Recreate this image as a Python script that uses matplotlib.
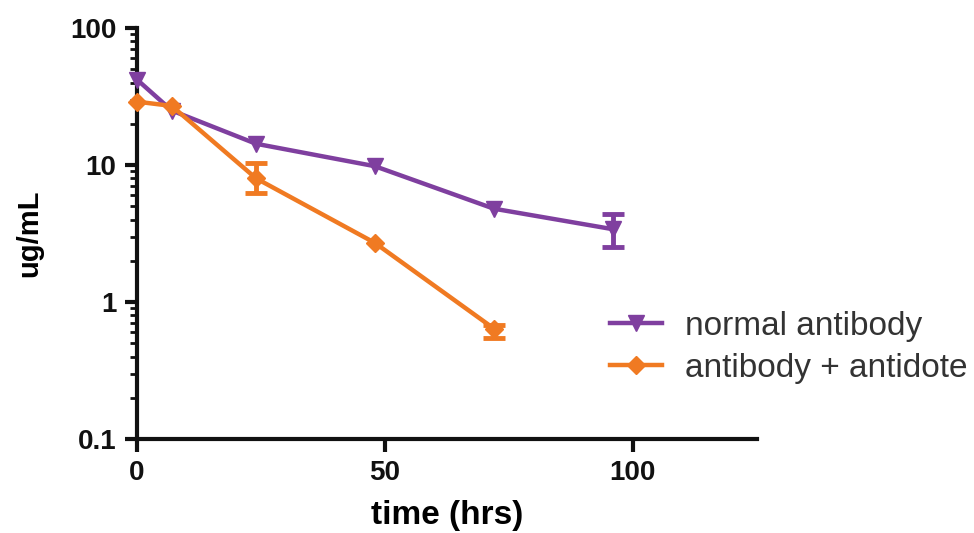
import matplotlib.pyplot as plt
from matplotlib.lines import Line2D
from matplotlib.ticker import LogLocator, NullFormatter

# ---------------- data ----------------
time_normal = [0, 7, 24, 48, 72, 96]
conc_normal = [42, 25, 14.3, 9.8, 4.8, 3.4]

# error bars only where they are visible
err_normal_t = [96]
err_normal_y = [3.4]
err_normal_lo = [0.9]
err_normal_hi = [1.0]

time_antidote = [0, 7, 24, 48, 72]
conc_antidote = [29, 27, 8.0, 2.7, 0.64]

err_antidote_t = [24, 72]
err_antidote_y = [8.0, 0.64]
err_antidote_lo = [1.8, 0.09]
err_antidote_hi = [2.3, 0.04]

purple = "#7f3f9f"
orange = "#f07a22"

fig = plt.figure(figsize=(9.74, 5.33), dpi=100)
ax = fig.add_axes([0.1407, 0.1764, 0.636, 0.771])

ax.plot(time_normal, conc_normal, color=purple, marker="v", markersize=12,
        linewidth=3.2, clip_on=False, zorder=3)
ax.errorbar(err_normal_t, err_normal_y, yerr=[err_normal_lo, err_normal_hi],
            fmt="none", ecolor=purple, capsize=8, capthick=3.5, elinewidth=3.5,
            zorder=3)
ax.plot(time_antidote, conc_antidote, color=orange, marker="D", markersize=9,
        linewidth=3.2, clip_on=False, zorder=3)
ax.errorbar(err_antidote_t, err_antidote_y, yerr=[err_antidote_lo, err_antidote_hi],
            fmt="none", ecolor=orange, capsize=8, capthick=3.5, elinewidth=3.5,
            zorder=3)

ax.set_yscale("log")
ax.set_ylim(0.1, 100)
ax.set_xlim(0, 125)
ax.set_xticks([0, 50, 100])
ax.set_yticks([0.1, 1, 10, 100])
ax.set_yticklabels(["0.1", "1", "10", "100"])
ax.yaxis.set_minor_locator(LogLocator(base=10, subs=range(2, 10)))
ax.yaxis.set_minor_formatter(NullFormatter())

for s in ["top", "right"]:
    ax.spines[s].set_visible(False)
for s in ["left", "bottom"]:
    ax.spines[s].set_linewidth(3)
    ax.spines[s].set_color("#111111")

ax.tick_params(axis="both", which="major", direction="out", length=9, width=3,
               labelsize=20, colors="#111111", pad=6)
ax.tick_params(axis="y", which="minor", direction="out", length=5, width=2,
               colors="#111111")
for lbl in ax.get_xticklabels() + ax.get_yticklabels():
    lbl.set_fontweight("bold")
    lbl.set_family("Liberation Sans")

ax.set_xlabel("time (hrs)", fontsize=24, fontweight="bold", family="Liberation Sans",
              labelpad=10)
ax.set_ylabel("ug/mL", fontsize=21, fontweight="bold", family="Liberation Sans",
              labelpad=19)

handles = [
    Line2D([], [], color=purple, marker="v", markersize=12, linewidth=3.2),
    Line2D([], [], color=orange, marker="D", markersize=9, linewidth=3.2),
]
leg = fig.legend(handles, ["normal antibody", "antibody + antidote"],
                 loc="center left", bbox_to_anchor=(0.626, 0.348),
                 frameon=False, prop={"family": "Liberation Sans", "size": 24},
                 handlelength=1.56, handletextpad=0.7, labelspacing=0.33,
                 borderaxespad=0, borderpad=0)
for t in leg.get_texts():
    t.set_color("#333333")

fig.savefig("out.png", dpi=100)
